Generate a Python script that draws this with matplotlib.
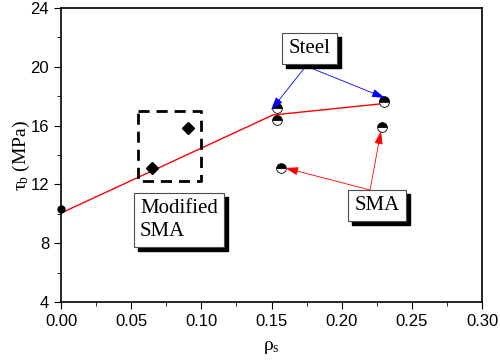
import numpy as np
import matplotlib.pyplot as plt
from matplotlib.patches import Rectangle

plt.rcParams['mathtext.fontset'] = 'custom'
plt.rcParams['mathtext.rm'] = 'Liberation Serif'
plt.rcParams['mathtext.it'] = 'Liberation Serif'

# fitted trend line
line_x = [0.0, 0.151, 0.230]
line_y = [10.05, 16.72, 17.50]

# plain reference point
ref_x = [0.0]
ref_y = [10.3]

# modified SMA specimens
mod_x = [0.065, 0.0905]
mod_y = [13.1, 15.85]

# steel / SMA specimens (half filled markers)
spec_x = [0.154, 0.154, 0.157, 0.230, 0.230, 0.229]
spec_y = [17.2, 16.4, 13.1, 17.7, 17.6, 15.9]

fig = plt.figure(figsize=(5, 3.63), dpi=100)
ax = fig.add_axes([0.122, 0.168, 0.842, 0.81])

ax.plot(line_x, line_y, color='red', lw=1)
ax.plot(ref_x, ref_y, 'o', color='k', ms=5, clip_on=False)
ax.plot(mod_x, mod_y, 'D', color='k', ms=6)
ax.plot(spec_x, spec_y, 'o', ls='none', fillstyle='top', markerfacecolor='k',
        markerfacecoloralt='white', markeredgecolor='k', ms=7, mew=0.6)

# dashed box around modified SMA
ax.plot([0.055, 0.0998, 0.0998, 0.055, 0.055], [17.0, 17.0, 12.2, 12.2, 17.0],
        color='k', lw=2, ls=(0, (4, 2.5)))

ax.set_xlim(0, 0.30)
ax.set_ylim(4, 24)
ax.set_xticks(np.arange(0, 0.31, 0.05))
ax.set_yticks(np.arange(4, 25, 4))
ax.set_xticks(np.arange(0.025, 0.3, 0.05), minor=True)
ax.set_yticks(np.arange(6, 24, 4), minor=True)
ax.tick_params(which='both', direction='out', top=False, right=False,
               labelsize=12, labelfontfamily='Liberation Sans')
ax.tick_params(which='major', length=5)
ax.tick_params(which='minor', length=3)
for s in ax.spines.values():
    s.set_linewidth(1.2)

ax.set_xlabel(r'$\rho_s$', fontsize=14, labelpad=6)
ax.set_ylabel(r'$\tau_b$ (MPa)', fontsize=14, family='Liberation Serif', labelpad=-1)

boxes = []


def boxed(x, y, s):
    t = ax.text(x, y, s, ha='center', va='center', fontsize=15, family='Liberation Serif',
                multialignment='left', linespacing=1.25, zorder=5,
                bbox=dict(boxstyle='square,pad=0.3', fc='white', ec='0.3', lw=0.8))
    boxes.append(t)


boxed(0.1771, 21.24, 'Steel')
boxed(0.0841, 9.58, 'Modified\nSMA')
boxed(0.2252, 10.56, 'SMA')

blue = dict(arrowstyle='-|>,head_length=0.8,head_width=0.25', color='blue', lw=0.6,
            shrinkA=0, shrinkB=0)
red = dict(arrowstyle='-|>,head_length=0.8,head_width=0.25', color='red', lw=0.6,
           shrinkA=0, shrinkB=0)
ax.annotate('', xy=(0.1497, 17.06), xytext=(0.1746, 20.05), arrowprops=blue)
ax.annotate('', xy=(0.2309, 17.88), xytext=(0.1746, 20.05), arrowprops=blue)
ax.annotate('', xy=(0.1597, 13.12), xytext=(0.2202, 11.62), arrowprops=red)
ax.annotate('', xy=(0.228, 15.63), xytext=(0.2202, 11.62), arrowprops=red)

# drop shadows behind the text boxes
fig.canvas.draw()
for t in boxes:
    bb = t.get_bbox_patch().get_window_extent()
    ax.add_patch(Rectangle((bb.x0 + 4, bb.y0 - 4), bb.width, bb.height,
                           transform=None, fc='k', ec='k', zorder=4))

fig.savefig('out.png', dpi=100)
